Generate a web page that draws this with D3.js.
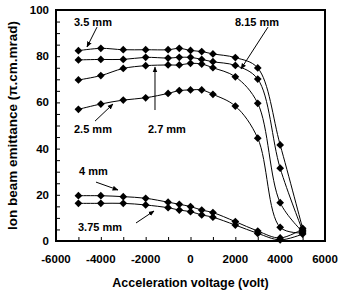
<!DOCTYPE html>
<html>
<head>
<meta charset="utf-8">
<script src="https://cdn.jsdelivr.net/npm/d3@7"></script>
<style>
  body { margin: 0; background: #fff; }
  text { font-family: "Liberation Sans", Arial, sans-serif; font-weight: bold; fill: #000; }
</style>
</head>
<body>
<svg id="chart" width="341" height="292"></svg>
<script>
const voltage = [-5000, -4000, -3000, -2000, -1000, -500, 0, 500, 1000, 2000, 3000, 4000, 5000]
const e35 = [82.4, 83.4, 82.8, 82.8, 82.8, 83.4, 82.5, 82, 81, 79.4, 74.9, 41.6, 5.5]
const e815 = [78.4, 78.6, 78.6, 79.5, 79.2, 79.5, 79.5, 78.6, 77.6, 76, 70.1, 31.5, 4.5]
const e27 = [69.7, 71.6, 74.7, 75.9, 76.2, 76.2, 76.9, 76.6, 75, 71.1, 59.6, 16.6, 4]
const e25 = [57, 59.3, 61, 62, 63.9, 65.1, 65.4, 65.4, 63.5, 58.4, 44.5, 5.9, 3.5]
const e4 = [19.6, 19.6, 19.2, 18.5, 16.8, 15.9, 14.9, 13.4, 12.3, 8.4, 4.3, 1.3, 5.2]
const e375 = [16.3, 16.3, 16.3, 15.6, 14.4, 13.4, 12.7, 11.3, 10.3, 6.9, 3.3, 0.5, 3]
const seriesList = [e35, e815, e27, e25, e4, e375]

const xTicks = [-6000, -4000, -2000, 0, 2000, 4000, 6000]
const yTicks = [0, 20, 40, 60, 80, 100]

// labels and arrows, in data units
const labels = [
  { text: '3.5 mm', x: -5197, y: 93.1 },
  { text: '8.15 mm', x: 1985, y: 93.1 },
  { text: '2.5 mm', x: -5197, y: 46.8 },
  { text: '2.7 mm', x: -1896, y: 46.8 },
  { text: '4 mm', x: -4974, y: 28.6 },
  { text: '3.75 mm', x: -5019, y: 4.3 }
]
const arrows = [
  { x1: -4171, y1: 92.6, x2: -4617, y2: 84.0 },
  { x1: 3457, y1: 92.6, x2: 2253, y2: 74.5 },
  { x1: -1584, y1: 56.7, x2: -1584, y2: 75.3 },
  { x1: -4260, y1: 51.9, x2: -3457, y2: 59.3 },
  { x1: -4216, y1: 25.5, x2: -3234, y2: 22.1 },
  { x1: -2431, y1: 7.8, x2: -1628, y2: 13.0 }
]

const L = 56, R = 325, T = 10, B = 241

const x = d3.scaleLinear().domain([-6000, 6000]).range([L, R])
const y = d3.scaleLinear().domain([0, 100]).range([B, T])

const svg = d3.select('#chart')

svg.append('defs').append('marker')
  .attr('id', 'head')
  .attr('viewBox', '0 0 10 10')
  .attr('refX', 9).attr('refY', 5)
  .attr('markerWidth', 6).attr('markerHeight', 6)
  .attr('markerUnits', 'userSpaceOnUse')
  .attr('orient', 'auto')
  .append('path')
  .attr('d', 'M0,1 L10,5 L0,9 Z')
  .attr('fill', '#000')

// minor ticks inward
svg.append('g')
  .attr('transform', `translate(0,${B})`)
  .call(d3.axisBottom(x).tickValues(d3.range(-6000, 6001, 1000)).tickSize(-4).tickFormat(''))
  .call(g => g.select('.domain').remove())
svg.append('g')
  .attr('transform', `translate(${L},0)`)
  .call(d3.axisLeft(y).tickValues(d3.range(0, 101, 5)).tickSize(-4).tickFormat(''))
  .call(g => g.select('.domain').remove())

// tick labels
svg.append('g')
  .selectAll('text')
  .data(xTicks)
  .join('text')
  .attr('x', d => x(d))
  .attr('y', B + 22)
  .attr('text-anchor', 'middle')
  .attr('font-size', 11.5)
  .text(d => d)
svg.append('g')
  .selectAll('text')
  .data(yTicks)
  .join('text')
  .attr('x', L - 7)
  .attr('y', d => y(d) + 4)
  .attr('text-anchor', 'end')
  .attr('font-size', 11.5)
  .text(d => d)

// frame
svg.append('rect')
  .attr('x', L).attr('y', T)
  .attr('width', R - L).attr('height', B - T)
  .attr('fill', 'none')
  .attr('stroke', '#000')
  .attr('stroke-width', 2)

const line = d3.line()
  .x((d, i) => x(voltage[i]))
  .y(d => y(d))
  .curve(d3.curveCatmullRom.alpha(0.5))

svg.append('g')
  .selectAll('path')
  .data(seriesList)
  .join('path')
  .attr('d', line)
  .attr('fill', 'none')
  .attr('stroke', '#000')
  .attr('stroke-width', 1)

const diamond = d3.symbol().type(d3.symbolSquare).size(30)
seriesList.forEach(s => {
  svg.append('g')
    .selectAll('path')
    .data(s)
    .join('path')
    .attr('d', diamond)
    .attr('transform', (d, i) => `translate(${x(voltage[i])},${y(d)}) rotate(45)`)
    .attr('fill', '#000')
})

svg.append('g')
  .selectAll('line')
  .data(arrows)
  .join('line')
  .attr('x1', d => x(d.x1)).attr('y1', d => y(d.y1))
  .attr('x2', d => x(d.x2)).attr('y2', d => y(d.y2))
  .attr('stroke', '#000')
  .attr('stroke-width', 1)
  .attr('marker-end', 'url(#head)')

svg.append('g')
  .selectAll('text')
  .data(labels)
  .join('text')
  .attr('x', d => x(d.x))
  .attr('y', d => y(d.y))
  .attr('font-size', 11)
  .text(d => d.text)

svg.append('text')
  .attr('x', x(0))
  .attr('y', 287)
  .attr('text-anchor', 'middle')
  .attr('font-size', 12.5)
  .text('Acceleration voltage  (volt)')

svg.append('text')
  .attr('transform', `translate(17,${(T + B) / 2}) rotate(-90)`)
  .attr('text-anchor', 'middle')
  .attr('font-size', 13.5)
  .text('Ion beam emittance  (π.cm.mrad)')
</script>
</body>
</html>
